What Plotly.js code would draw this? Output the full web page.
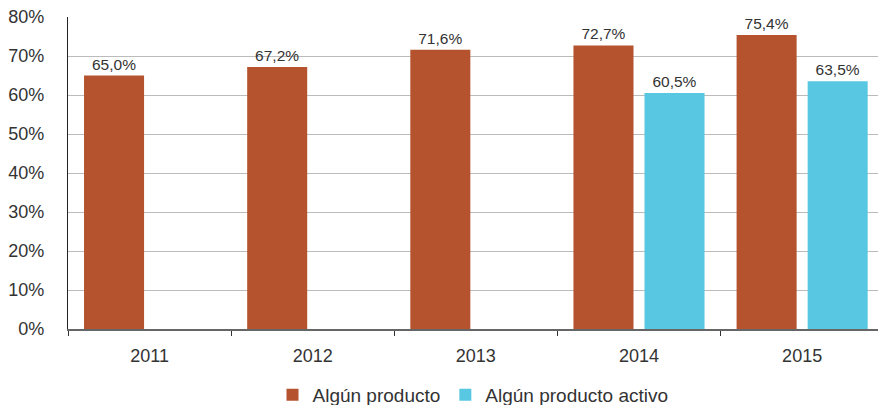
<!DOCTYPE html>
<html><head><meta charset="utf-8">
<script src="https://cdn.plot.ly/plotly-3.0.1.min.js"></script>
<style>html,body{margin:0;padding:0;background:#fff}#chart{width:878px;height:405px}</style>
</head><body><div id="chart"></div>
<script>
const years = ['2011','2012','2013','2014','2015'];
const algunProducto = [65.0, 67.2, 71.6, 72.7, 75.4];
const algunProductoActivo = [null, null, null, 60.5, 63.5];
const seriesNames = ['Algún producto', 'Algún producto activo'];
const yTicks = [0,10,20,30,40,50,60,70,80];
const yTickText = yTicks.map(v => v + '%');

function lbl(arr){ return arr.map(v => v==null ? '' : v.toFixed(1).replace('.', ',') + '%'); }

const txtFont = {family:'Liberation Sans, Arial, sans-serif', size:15.5, color:'#333'};
const traces = [
  {type:'bar', name:seriesNames[0], x:years, y:algunProducto, marker:{color:'#B5532F'},
   text:lbl(algunProducto), textposition:'outside', textfont:txtFont, cliponaxis:false},
  {type:'bar', name:seriesNames[1], x:years, y:algunProductoActivo, marker:{color:'#58C8E2'},
   text:lbl(algunProductoActivo), textposition:'outside', textfont:txtFont, cliponaxis:false}
];
const layout = {
  width:878, height:405,
  margin:{l:68, r:0, t:17, b:76, autoexpand:false},
  paper_bgcolor:'#fff', plot_bgcolor:'#fff',
  barmode:'group', bargap:0.129, bargroupgap:0.155,
  showlegend:true,
  legend:{orientation:'h', x:0.5, xanchor:'center', xref:'paper', yref:'container', y:0.025, yanchor:'middle',
          font:{family:'Liberation Sans, Arial, sans-serif', size:19, color:'#333'}, tracegroupgap:0},
  xaxis:{type:'category', range:[-0.5, 4.465], tickson:'boundaries', ticks:'outside', ticklen:5, tickcolor:'#333',
         showline:true, linecolor:'#666', linewidth:1.5, showgrid:false, zeroline:false, automargin:false,
         tickfont:{family:'Liberation Sans, Arial, sans-serif', size:18, color:'#333'}, ticklabelstandoff:10},
  yaxis:{range:[0,80], tickmode:'array', tickvals:yTicks, ticktext:yTickText, showgrid:true, gridcolor:'#bbb', gridwidth:1,
         showline:true, linecolor:'#222', linewidth:1.2, zeroline:false, ticks:'', ticklabelstandoff:19, automargin:false,
         tickfont:{family:'Liberation Sans, Arial, sans-serif', size:18, color:'#333'}},
  font:{family:'Liberation Sans, Arial, sans-serif', color:'#333'}
};
Plotly.newPlot('chart', traces, layout, {displayModeBar:false, staticPlot:true});
</script></body></html>
